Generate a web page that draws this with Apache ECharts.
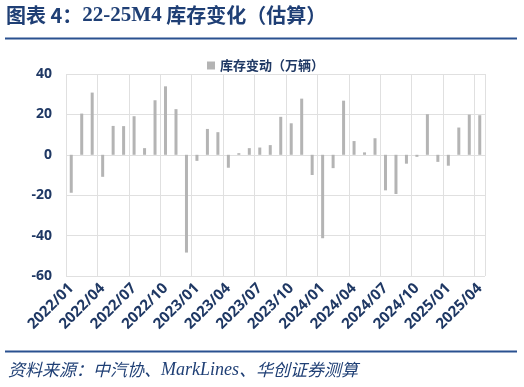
<!DOCTYPE html>
<html><head><meta charset="utf-8">
<script src="https://cdn.jsdelivr.net/npm/echarts@6/dist/echarts.min.js"></script>
<style>html,body{margin:0;padding:0;background:#fff}#c{width:524px;height:387px}</style>
</head><body><div id="c"></div>
<script>
const categories = [
 '2022/01','2022/02','2022/03','2022/04','2022/05','2022/06','2022/07','2022/08','2022/09','2022/10','2022/11','2022/12',
 '2023/01','2023/02','2023/03','2023/04','2023/05','2023/06','2023/07','2023/08','2023/09','2023/10','2023/11','2023/12',
 '2024/01','2024/02','2024/03','2024/04','2024/05','2024/06','2024/07','2024/08','2024/09','2024/10','2024/11','2024/12',
 '2025/01','2025/02','2025/03','2025/04'];
const inventoryChange = [
 -18.8, 20.4, 30.8, -10.9, 14.3, 14.2, 19.1, 3.3, 27.0, 33.9, 22.6, -48.4,
 -3.0, 12.8, 11.2, -6.4, 0.8, 3.3, 3.6, 4.8, 18.8, 15.6, 27.8, -10.0,
 -41.3, -6.6, 26.8, 6.8, 1.2, 8.2, -17.6, -19.4, -4.4, -1.0, 20.1, -3.5,
 -5.4, 13.5, 19.9, 19.6];
const seriesName = '库存变动（万辆）';
const sourceText = '资料来源：中汽协、MarkLines、华创证券测算';

const navy = '#1f3864';
const chart = echarts.init(document.getElementById('c'), null, {renderer:'canvas'});
chart.setOption({
  animation: false,
  backgroundColor: '#fff',
  graphic: [
    {type:'text', left: 6, top: 5, style:{
      text: '{a|图表 4：}{b|22-25M4}{a| 库存变化（估算）}',
      rich: {
        a: {font: 'bold 20px "Noto Sans CJK SC"', fill: '#1f3f75'},
        b: {font: 'bold 21px "Liberation Serif"', fill: '#1f3f75'}
      }
    }},
    {type:'rect', shape:{x:5, y:37.5, width:512, height:2}, style:{fill:'#2a5190'}},
    {type:'rect', shape:{x:5, y:350.5, width:512, height:2}, style:{fill:'#2a5190'}},
    {type:'text', left: 8, top: 361, style:{
      text: '{a|资料来源：中汽协、}{b|MarkLines}{a|、华创证券测算}',
      rich: {
        a: {font: 'italic 17px "Noto Sans CJK SC"', fill: '#1f3f75'},
        b: {font: 'italic 18px "Liberation Serif"', fill: '#1f3f75'}
      }
    }}
  ],
  legend: {
    top: 54, left: 202,
    itemWidth: 8, itemHeight: 8, itemGap: 4,
    icon: 'rect',
    textStyle: {color: navy, fontWeight: 'bold', fontSize: 13, fontFamily: '"Noto Sans CJK SC"'},
    data: [seriesName]
  },
  grid: {left: 66, right: 39, top: 74, bottom: 111, containLabel: false},
  xAxis: {
    type: 'category', data: categories, boundaryGap: true,
    axisLine: {show: false}, axisTick: {show: false},
    splitLine: {show: true, interval: 2, lineStyle: {color: '#e0e0e0', width: 1}},
    axisLabel: {interval: 2, rotate: 45, color: navy, fontWeight: 'bold', fontSize: 15,
      fontFamily: '"Open Sans"', margin: 10}
  },
  yAxis: {
    type: 'value', min: -60, max: 40, interval: 20,
    axisLine: {show: false}, axisTick: {show: false},
    splitLine: {lineStyle: {color: '#e0e0e0', width: 1}},
    axisLabel: {color: navy, fontWeight: 'bold', fontSize: 14, fontFamily: '"Open Sans"', margin: 14}
  },
  series: [{
    name: seriesName, type: 'bar', data: inventoryChange, barWidth: 3,
    itemStyle: {color: '#b4b4b4'}
  }]
});
</script></body></html>
